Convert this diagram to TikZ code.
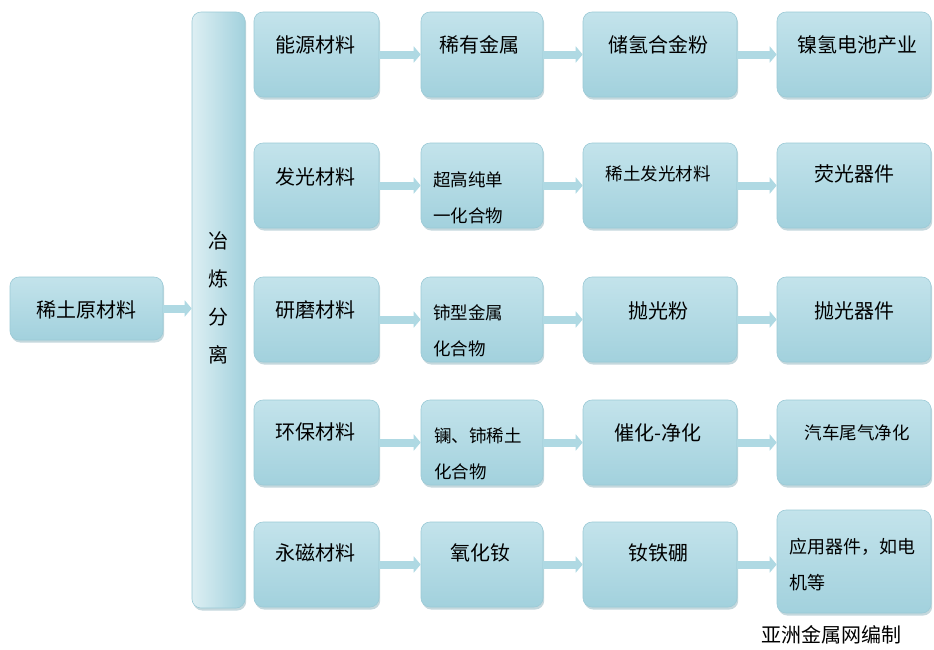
\documentclass[tikz,border=0pt]{standalone}
\usepackage{fontspec}
\setmainfont{Noto Sans CJK SC}
\usetikzlibrary{shadows,arrows.meta}
\definecolor{boxtop}{HTML}{C3E3EB}
\definecolor{boxmid}{HTML}{DDEFF3}
\definecolor{boxbot}{HTML}{A2D1DD}
\definecolor{boxedge}{HTML}{9BCAD6}
\definecolor{arrc}{HTML}{AFD9E3}
\definecolor{shadc}{HTML}{7FA9B5}
\tikzset{
  box/.style={rectangle, rounded corners=9pt, draw=boxedge, line width=0.6pt,
    top color=boxtop, middle color=boxmid, bottom color=boxbot, inner sep=0pt,
    drop shadow={shadow xshift=1.2pt, shadow yshift=-2.5pt, fill=shadc, opacity=0.45}},
  tallbox/.style={rectangle, rounded corners=9pt, draw=boxedge, line width=0.6pt,
    left color=boxmid, right color=boxbot, inner sep=0pt,
    drop shadow={shadow xshift=1.2pt, shadow yshift=-2.5pt, fill=shadc, opacity=0.45}},
  txt/.style={inner sep=0pt, font=\fontsize{20}{24}\selectfont},
  stxt/.style={inner sep=0pt, font=\fontsize{17.5}{20}\selectfont},
  twotxt/.style={inner sep=0pt, align=left, anchor=west, font=\fontsize{17.5}{36}\selectfont},
  arr/.style={line width=8pt, draw=arrc, -{Triangle[length=7pt,width=16pt]}},
}
\begin{document}
\begin{tikzpicture}[x=1pt,y=-1pt]
\useasboundingbox[fill=white] (0,0) rectangle (934,649);
% left and tall box
\node[box, minimum width=153pt, minimum height=63pt] (b0) at (86.5,308.5) {};
\node[txt] (t0) at (86.5,310) {稀土原材料};
\node[tallbox, minimum width=53pt, minimum height=596pt] (tall) at (218.5,310) {};
\node[txt, align=center, font=\fontsize{20}{38}\selectfont] (ttall) at (218,298) {冶\\炼\\分\\离};
% column 1
\node[box, minimum width=125pt, minimum height=85pt] (b11) at (316.5,54.5) {};
\node[box, minimum width=125pt, minimum height=85pt] (b21) at (316.5,185.5) {};
\node[box, minimum width=125pt, minimum height=85pt] (b31) at (316.5,319.5) {};
\node[box, minimum width=125pt, minimum height=85pt] (b41) at (316.5,442.5) {};
\node[box, minimum width=125pt, minimum height=85pt] (b51) at (316.5,564.5) {};
\node[txt] (t11) at (315,45) {能源材料};
\node[txt] (t21) at (315,177) {发光材料};
\node[txt] (t31) at (315,310) {研磨材料};
\node[txt] (t41) at (315,432) {环保材料};
\node[txt] (t51) at (315,553) {永磁材料};
% column 2
\node[box, minimum width=122pt, minimum height=85pt] (b12) at (482,54.5) {};
\node[box, minimum width=122pt, minimum height=85pt] (b22) at (482,185.5) {};
\node[box, minimum width=122pt, minimum height=85pt] (b32) at (482,319.5) {};
\node[box, minimum width=122pt, minimum height=85pt] (b42) at (482,442.5) {};
\node[box, minimum width=122pt, minimum height=85pt] (b52) at (482,564.5) {};
\node[txt] (t12) at (479,45) {稀有金属};
\node[twotxt] (t22) at (433,198) {超高纯单\\一化合物};
\node[twotxt] (t32) at (433,331) {铈型金属\\化合物};
\node[twotxt] (t42) at (434,454) {镧、铈稀土\\化合物};
\node[txt] (t52) at (480,553) {氧化钕};
% column 3
\node[box, minimum width=154pt, minimum height=85pt] (b13) at (660,54.5) {};
\node[box, minimum width=154pt, minimum height=85pt] (b23) at (660,185.5) {};
\node[box, minimum width=154pt, minimum height=85pt] (b33) at (660,319.5) {};
\node[box, minimum width=154pt, minimum height=85pt] (b43) at (660,442.5) {};
\node[box, minimum width=154pt, minimum height=85pt] (b53) at (660,564.5) {};
\node[txt] (t13) at (658,45) {储氢合金粉};
\node[stxt] (t23) at (658,174) {稀土发光材料};
\node[txt] (t33) at (658,311) {抛光粉};
\node[txt] (t43) at (658,433) {催化-净化};
\node[txt] (t53) at (658,553) {钕铁硼};
% column 4
\node[box, minimum width=154pt, minimum height=85pt] (b14) at (854,54.5) {};
\node[box, minimum width=154pt, minimum height=85pt] (b24) at (854,185.5) {};
\node[box, minimum width=154pt, minimum height=85pt] (b34) at (854,319.5) {};
\node[box, minimum width=154pt, minimum height=85pt] (b44) at (854,442.5) {};
\node[box, minimum width=154pt, minimum height=103pt] (b54) at (854,561.5) {};
\node[txt] (t14) at (857,45) {镍氢电池产业};
\node[txt] (t24) at (854,174) {荧光器件};
\node[txt] (t34) at (854,311) {抛光器件};
\node[stxt] (t44) at (857,433) {汽车尾气净化};
\node[twotxt, font=\fontsize{18}{36}\selectfont] (t54) at (789,565) {应用器件，如电\\机等};
% caption
\node[txt] (cap) at (831,635) {亚洲金属网编制};
% arrows
\draw[arr] (b0.east) -- (tall.west |- b0.east);
\foreach \r in {1,...,5}{
  \draw[arr] (b\r1.east) -- (b\r2.west);
  \draw[arr] (b\r2.east) -- (b\r3.west);
  \draw[arr] (b\r3.east) -- (b\r4.west |- b\r3.east);
}
\end{tikzpicture}
\end{document}
